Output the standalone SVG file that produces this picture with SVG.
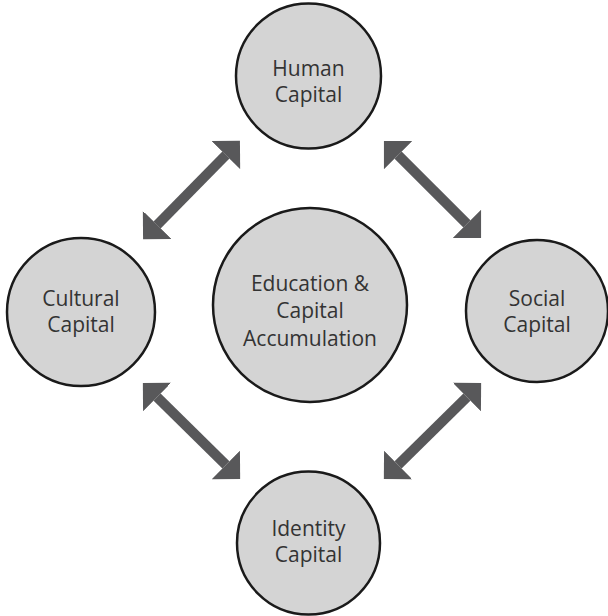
<svg xmlns="http://www.w3.org/2000/svg" width="608" height="616" viewBox="0 0 608 616">
  <style>
    .node circle { fill: #d4d4d4; stroke: #1a1a1a; stroke-width: 2.5; }
    .node text { font-family: "Open Sans", "Liberation Sans", sans-serif; font-size: 21px; fill: #333333; text-anchor: middle; }
    .link { stroke: #58585a; stroke-width: 10; fill: none; marker-start: url(#head); marker-end: url(#head); }
  </style>
  <defs>
    <marker id="head" markerUnits="userSpaceOnUse" viewBox="0 -20 20 40" markerWidth="20" markerHeight="40" refX="0" refY="0" orient="auto-start-reverse">
      <path d="M0,-20 L20,0 L0,20 Z" fill="#58585a"/>
    </marker>
  </defs>
  <rect width="608" height="616" fill="#ffffff"/>

  <!-- double-headed connectors; line ends sit at the base of each head -->
  <g id="connectors">
    <line class="link" x1="157.1" y1="224.9" x2="225.9" y2="155.1"/>
    <line class="link" x1="398.1" y1="155.1" x2="466.9" y2="223.9"/>
    <line class="link" x1="157.1" y1="397.1" x2="225.9" y2="464.9"/>
    <line class="link" x1="398.1" y1="464.9" x2="466.9" y2="397.1"/>
  </g>

  <g id="human" class="node">
    <circle cx="308.5" cy="76" r="72.5"/>
    <text x="308.5" y="76">Human</text>
    <text x="308.5" y="101.5">Capital</text>
  </g>

  <g id="cultural" class="node">
    <circle cx="81" cy="312" r="74"/>
    <text x="81" y="306">Cultural</text>
    <text x="81" y="332">Capital</text>
  </g>

  <g id="centre" class="node">
    <circle cx="310" cy="305" r="97"/>
    <text x="310" y="291">Education &amp;</text>
    <text x="310" y="318">Capital</text>
    <text x="310" y="346">Accumulation</text>
  </g>

  <g id="social" class="node">
    <circle cx="537" cy="311" r="71"/>
    <text x="537" y="306">Social</text>
    <text x="537" y="332">Capital</text>
  </g>

  <g id="identity" class="node">
    <circle cx="308.5" cy="543" r="71.5"/>
    <text x="308.5" y="536">Identity</text>
    <text x="308.5" y="562">Capital</text>
  </g>
</svg>
